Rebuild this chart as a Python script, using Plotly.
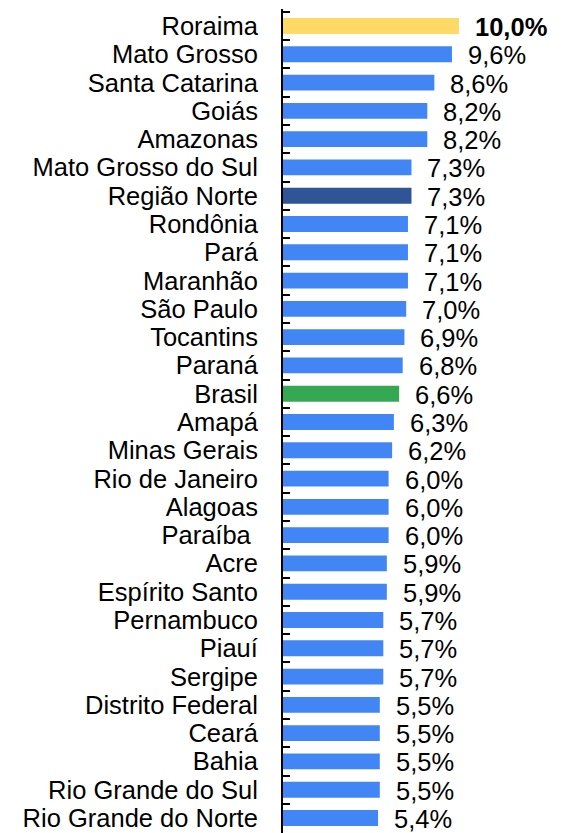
import plotly.graph_objects as go

categories = ["Roraima", "Mato Grosso", "Santa Catarina", "Goiás", "Amazonas",
              "Mato Grosso do Sul", "Região Norte", "Rondônia", "Pará", "Maranhão",
              "São Paulo", "Tocantins", "Paraná", "Brasil", "Amapá", "Minas Gerais",
              "Rio de Janeiro", "Alagoas", "Paraíba ", "Acre", "Espírito Santo",
              "Pernambuco", "Piauí", "Sergipe", "Distrito Federal", "Ceará", "Bahia",
              "Rio Grande do Sul", "Rio Grande do Norte"]
values = [10.0, 9.6, 8.6, 8.2, 8.2, 7.3, 7.3, 7.1, 7.1, 7.1, 7.0, 6.9, 6.8, 6.6,
          6.3, 6.2, 6.0, 6.0, 6.0, 5.9, 5.9, 5.7, 5.7, 5.7, 5.5, 5.5, 5.5, 5.5, 5.4]
value_labels = ["10,0%", "9,6%", "8,6%", "8,2%", "8,2%", "7,3%", "7,3%", "7,1%", "7,1%",
                "7,1%", "7,0%", "6,9%", "6,8%", "6,6%", "6,3%", "6,2%", "6,0%", "6,0%",
                "6,0%", "5,9%", "5,9%", "5,7%", "5,7%", "5,7%", "5,5%", "5,5%", "5,5%",
                "5,5%", "5,4%"]

BLUE = "#4285F4"
special = {"Roraima": "#FFD966", "Região Norte": "#2F5597", "Brasil": "#34A853"}
colors = [special.get(c, BLUE) for c in categories]

FONT = "Liberation Sans, Arial, sans-serif"
FSIZE = 25.5

fig = go.Figure(go.Bar(
    x=values, y=categories, orientation="h",
    marker=dict(color=colors, line=dict(width=0)),
    hoverinfo="skip",
))

for c, v, t in zip(categories, values, value_labels):
    bold = c == "Roraima"
    fig.add_annotation(
        x=v, y=c, xref="x", yref="y", text=f"<b>{t}</b>" if bold else t,
        showarrow=False, xanchor="left", yanchor="middle", xshift=14, yshift=-1,
        font=dict(family=FONT, size=FSIZE, color="#000000"),
    )

# page body has an 8px default margin, so the figure is sized to fit the window
fig.update_layout(
    width=555, height=825,
    margin=dict(l=275, r=0, t=1, b=0, autoexpand=False),
    paper_bgcolor="white", plot_bgcolor="white",
    bargap=0.44,
    showlegend=False,
    xaxis=dict(range=[0, 280 / 17.6], visible=False, fixedrange=True, automargin=False),
    yaxis=dict(
        autorange="reversed", showline=True, linecolor="#000000", linewidth=2,
        ticks="inside", ticklen=7, tickwidth=2, tickcolor="#000000",
        tickmode="array", tickvals=categories, ticktext=categories,
        tickson="boundaries", showgrid=False, ticklabelstandoff=18,
        tickfont=dict(family=FONT, size=FSIZE, color="#000000"),
        fixedrange=True, automargin=False,
    ),
)

fig.write_html("out.html")
